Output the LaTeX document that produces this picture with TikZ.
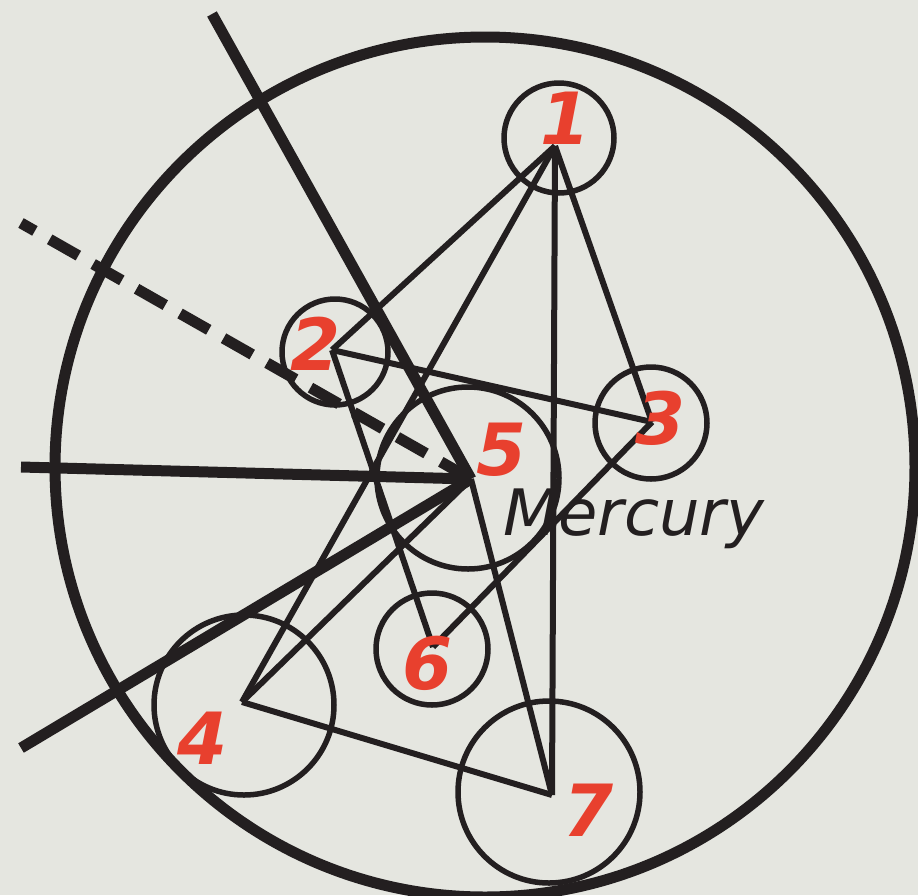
\documentclass[tikz,border=0pt]{standalone}
\usepackage{fontspec}
\newfontfamily\orbitfont{DejaVu Sans}[BoldFont={DejaVu Sans Bold},
  ItalicFont={DejaVu Sans Oblique}, BoldItalicFont={DejaVu Sans Bold Oblique}]
\definecolor{ink}{RGB}{35,31,32}
\definecolor{mark}{RGB}{232,64,46}
\definecolor{paper}{RGB}{229,230,224}

\begin{document}
\begin{tikzpicture}[x=1pt, y=-1pt,
      orbit/.style={draw=ink, circle, line width=5.5pt, inner sep=0pt},
      link/.style={draw=ink, line width=6pt},
      ray/.style={draw=ink, line width=11pt},
      num/.style={text=mark, inner sep=0pt,
                  font=\orbitfont\bfseries\itshape\fontsize{72}{72}\selectfont},
      planet/.style={text=ink, inner sep=0pt,
                     font=\orbitfont\itshape\fontsize{64}{64}\selectfont}]

    % paper
    \fill[paper] (0,0) rectangle (918,895);
    \useasboundingbox (0,0) rectangle (918,895);

    % outer ring
    \node[orbit, line width=11pt, minimum size=860pt] (sky) at (485,467) {};

    % meeting points of the lines
    \coordinate (v1) at (555,146);
    \coordinate (v2) at (332,350);
    \coordinate (v3) at (652,422);
    \coordinate (v4) at (242,702);
    \coordinate (v5) at (471,479);
    \coordinate (v6) at (433,647);
    \coordinate (v7) at (552,795);

    % free ends of the heavy lines
    \coordinate (top)  at (212,14);
    \coordinate (dash) at (21,223);
    \coordinate (left) at (21,467);
    \coordinate (low)  at (21,748);

    % heavy lines into 5
    \draw[ray] (top)  -- (v5);
    \draw[ray, dash pattern=on 33pt off 17pt, dash phase=17pt] (dash) -- (v5);
    \draw[ray] (left) -- (v5);
    \draw[ray] (low)  -- (v5);

    % thin links
    \draw[link] (v1) -- (v2);
    \draw[link] (v1) -- (v4);
    \draw[link] (v1) -- (v7);
    \draw[link] (v1) -- (v3);
    \draw[link] (v2) -- (v3);
    \draw[link] (v2) -- (v6);
    \draw[link] (v3) -- (v6);
    \draw[link] (v4) -- (v5);
    \draw[link] (v4) -- (v7);
    \draw[link] (v5) -- (v7);

    % small rings
    \node[orbit, minimum size=110pt] (c1) at (559,138) {};
    \node[orbit, minimum size=106pt] (c2) at (335,352) {};
    \node[orbit, minimum size=112pt] (c3) at (651,423) {};
    \node[orbit, minimum size=180pt] (c4) at (244,705) {};
    \node[orbit, minimum size=182pt] (c5) at (468,478) {};
    \node[orbit, minimum size=112pt] (c6) at (432,649) {};
    \node[orbit, minimum size=182pt] (c7) at (549,792) {};

    % numbers
    \node[num] (n1) at (566,118) {1};
    \node[num] (n2) at (316,344) {2};
    \node[num] (n3) at (661,418) {3};
    \node[num] (n4) at (203,738) {4};
    \node[num] (n5) at (502,450) {5};
    \node[num] (n6) at (428,663) {6};
    \node[num] (n7) at (589,810) {7};

    \node[planet, anchor=base west] (merc) at (503,535) {Mercury};

\end{tikzpicture}
\end{document}
